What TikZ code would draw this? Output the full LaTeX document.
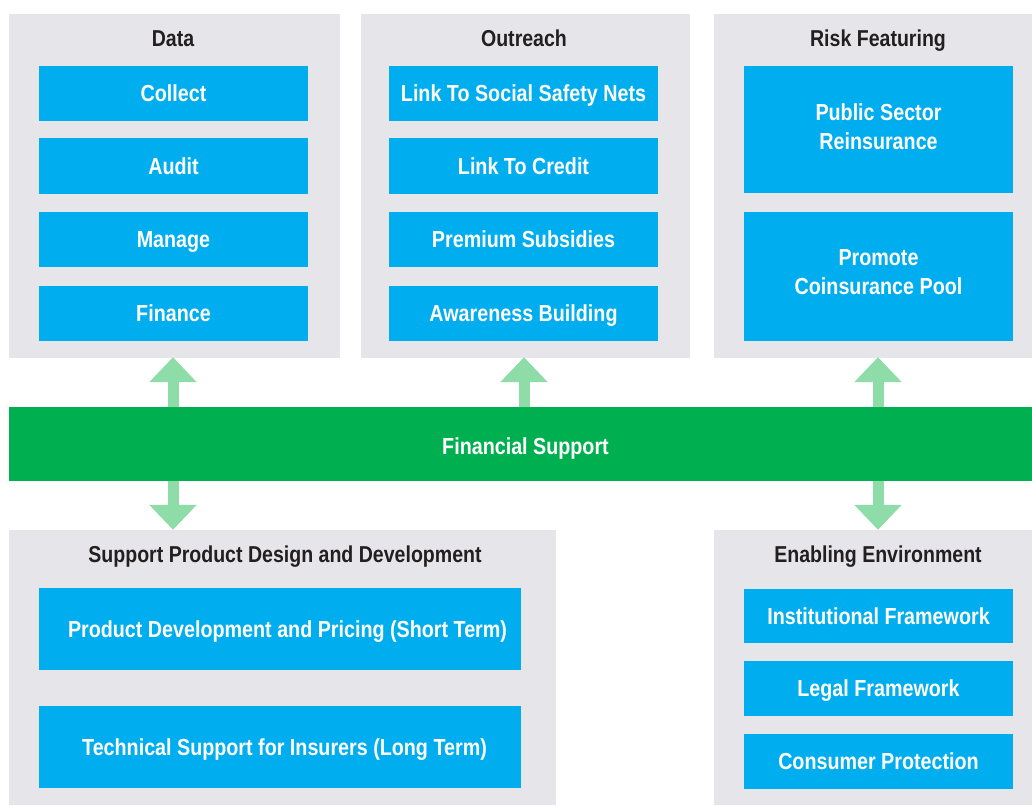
\documentclass[tikz,border=0pt]{standalone}
\usepackage{fontspec}
\setmainfont{Liberation Sans}[FakeStretch=0.85]
\usetikzlibrary{arrows.meta}
\definecolor{panelgray}{HTML}{E6E6EA}
\definecolor{boxblue}{HTML}{00AEEF}
\definecolor{bargreen}{HTML}{00B050}
\definecolor{arrgreen}{HTML}{8EDDA8}
\definecolor{titletext}{HTML}{231F20}
\tikzset{
  panel/.style={fill=panelgray, draw=none, inner sep=0pt},
  bluebox/.style={fill=boxblue, draw=none, inner sep=0pt, text=white, align=center,
    font=\bfseries\fontsize{23.2}{28.5}\selectfont},
  oneline/.style={text height=16.6pt, text depth=0pt},
  ptitle/.style={text=titletext, inner sep=0pt, anchor=base, font=\bfseries\fontsize{23}{28}\selectfont},
  arr/.style={draw=arrgreen, line width=11pt, -{Triangle[width=46pt,length=25pt]}, fill=arrgreen}
}
\begin{document}
\begin{tikzpicture}[x=1pt,y=-1pt]
\useasboundingbox (0,0) rectangle (1032,805);
% panels
\node[panel, minimum width=331pt, minimum height=344pt] (data) at (174.5,186) {};
\node[panel, minimum width=329pt, minimum height=344pt] (outreach) at (525.5,186) {};
\node[panel, minimum width=318pt, minimum height=344pt] (risk) at (873,186) {};
\node[panel, minimum width=547pt, minimum height=275pt] (spd) at (282.5,667.5) {};
\node[panel, minimum width=318pt, minimum height=275pt] (env) at (873,667.5) {};
% titles
\node[ptitle] (tdata) at (173,46.5) {Data};
\node[ptitle] (tout) at (524,46.5) {Outreach};
\node[ptitle] (trisk) at (878,46.5) {Risk Featuring};
\node[ptitle] (tspd) at (285,562.5) {Support Product Design and Development};
\node[ptitle] (tenv) at (878,562.5) {Enabling Environment};
% data boxes
\node[bluebox, oneline, minimum width=269pt, minimum height=55pt] (collect) at (173.5,93.5) {Collect};
\node[bluebox, oneline, minimum width=269pt, minimum height=55pt] (audit) at (173.5,166) {Audit};
\node[bluebox, oneline, minimum width=269pt, minimum height=55pt] (manage) at (173.5,239.5) {Manage};
\node[bluebox, oneline, minimum width=269pt, minimum height=55pt] (finance) at (173.5,313.5) {Finance};
% outreach boxes
\node[bluebox, oneline, minimum width=269pt, minimum height=55pt] (social) at (523.5,93.5) {Link To Social Safety Nets};
\node[bluebox, oneline, minimum width=269pt, minimum height=55pt] (credit) at (523.5,166) {Link To Credit};
\node[bluebox, oneline, minimum width=269pt, minimum height=55pt] (premium) at (523.5,239.5) {Premium Subsidies};
\node[bluebox, oneline, minimum width=269pt, minimum height=55pt] (aware) at (523.5,313.5) {Awareness Building};
% risk boxes
\node[bluebox, minimum width=269pt, minimum height=127pt] (public) at (878.5,129.5) {};
\node[bluebox, align=center] (publict) at (878.5,126.5) {Public Sector\\Reinsurance};
\node[bluebox, minimum width=269pt, minimum height=129pt] (pool) at (878.5,276.5) {};
\node[bluebox, align=center] (poolt) at (878.5,272) {Promote\\Coinsurance Pool};
% support product boxes
\node[bluebox, oneline, minimum width=482pt, minimum height=82pt] (pdp) at (280,629) {\hspace{15pt}Product Development and Pricing (Short Term)};
\node[bluebox, oneline, minimum width=482pt, minimum height=82pt] (tsi) at (280,747) {\hspace{9pt}Technical Support for Insurers (Long Term)};
% enabling boxes
\node[bluebox, oneline, minimum width=269pt, minimum height=54pt] (inst) at (878.5,616) {Institutional Framework};
\node[bluebox, oneline, minimum width=269pt, minimum height=55pt] (legal) at (878.5,688.5) {Legal Framework};
\node[bluebox, oneline, minimum width=269pt, minimum height=55pt] (consumer) at (878.5,761.5) {Consumer Protection};
% financial support bar
\node[fill=bargreen, draw=none, inner sep=0pt, minimum width=1023pt, minimum height=74pt,
  text height=20.6pt, text depth=0pt,
  text=white, font=\bfseries\fontsize{23.2}{28}\selectfont] (bar) at (520.5,444) {\hspace{10pt}Financial Support};
% arrows
\coordinate (xa) at (173,0);
\coordinate (xb) at (524,0);
\coordinate (xc) at (878,0);
\draw[arr] (bar.north -| xa) -- ([yshift=1pt]data.south -| xa);
\draw[arr] (bar.north -| xb) -- ([yshift=1pt]outreach.south -| xb);
\draw[arr] (bar.north -| xc) -- ([yshift=1pt]risk.south -| xc);
\draw[arr] (bar.south -| xa) -- (spd.north -| xa);
\draw[arr] (bar.south -| xc) -- (env.north -| xc);
\end{tikzpicture}
\end{document}
